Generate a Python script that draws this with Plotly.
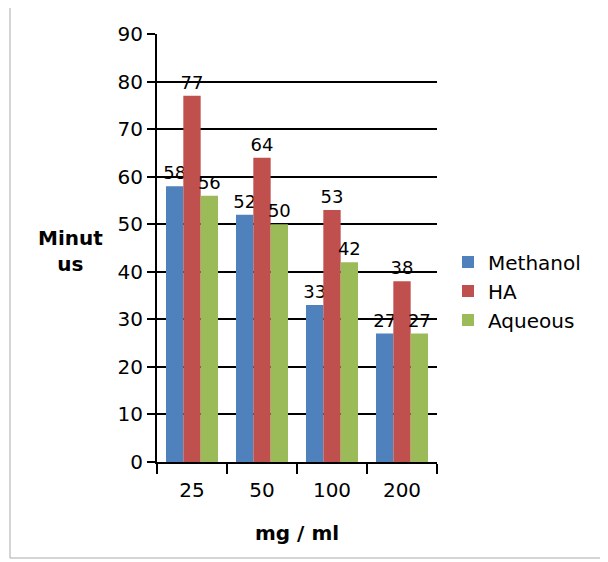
import plotly.graph_objects as go

categories = ["25", "50", "100", "200"]
methanol = [58, 52, 33, 27]
ha = [77, 64, 53, 38]
aqueous = [56, 50, 42, 27]
series_names = ["Methanol", "HA", "Aqueous"]
colors = ["#4F81BD", "#C0504D", "#9BBB59"]
y_ticks = [0, 10, 20, 30, 40, 50, 60, 70, 80, 90]

FONT = "DejaVu Sans"
# page body has an 8px margin; work in figure pixel coords
OFF = 8
L, T, PW, PH = 157 - OFF, 34 - OFF, 280, 428
W, H = 600, 554


def px_x(x):
    return (x - OFF - L) / PW


def px_y(y):
    return (T + PH - (y - OFF)) / PH


fig = go.Figure()
for name, vals, col in zip(series_names, [methanol, ha, aqueous], colors):
    fig.add_trace(go.Bar(
        name=name, x=categories, y=vals, marker=dict(color=col, line=dict(width=0)),
        text=[str(v) for v in vals], textposition="outside", cliponaxis=False,
        constraintext="none",
        textfont=dict(family=FONT, size=18, color="#000000"),
    ))

fig.update_layout(
    width=W, height=H,
    margin=dict(l=L, r=W - L - PW, t=T, b=H - T - PH),
    paper_bgcolor="white", plot_bgcolor="white",
    barmode="group", bargap=0.257, bargroupgap=0,
    font=dict(family=FONT, size=18, color="#000000"),
    showlegend=True,
    legend=dict(x=px_x(448), y=px_y(291), xanchor="left", yanchor="middle",
                font=dict(family=FONT, size=20, color="#000000"),
                tracegroupgap=8, itemwidth=30, bgcolor="rgba(0,0,0,0)"),
    xaxis=dict(type="category", showline=True, linecolor="#000000", linewidth=2,
               ticks="outside", tickson="boundaries", ticklen=10, tickwidth=2,
               tickcolor="#000000", showgrid=False, ticklabelstandoff=9,
               tickfont=dict(family=FONT, size=20, color="#000000")),
    yaxis=dict(range=[0, 90], tickvals=y_ticks, showline=True, linecolor="#000000",
               linewidth=2, ticks="outside", ticklen=8, tickwidth=2, tickcolor="#000000",
               showgrid=True, gridcolor="#000000", gridwidth=2, zeroline=False,
               tickfont=dict(family=FONT, size=20, color="#000000")),
    annotations=[
        dict(text="<b>Minut<br>us</b>", xref="paper", yref="paper",
             x=px_x(70), y=px_y(251), xanchor="center", yanchor="middle",
             showarrow=False,
             font=dict(family=FONT, size=20, color="#000000"), align="center"),
        dict(text="<b>mg / ml</b>", xref="paper", yref="paper",
             x=px_x(297), y=px_y(533), xanchor="center", yanchor="middle",
             showarrow=False,
             font=dict(family=FONT, size=20, color="#000000")),
    ],
    shapes=[
        dict(type="rect", xref="paper", yref="paper",
             x0=px_x(10), x1=px_x(601),
             y0=px_y(558), y1=px_y(0),
             line=dict(color="#AAAAAA", width=1), fillcolor="rgba(0,0,0,0)", layer="below"),
    ],
)

fig.write_html("out.html")
